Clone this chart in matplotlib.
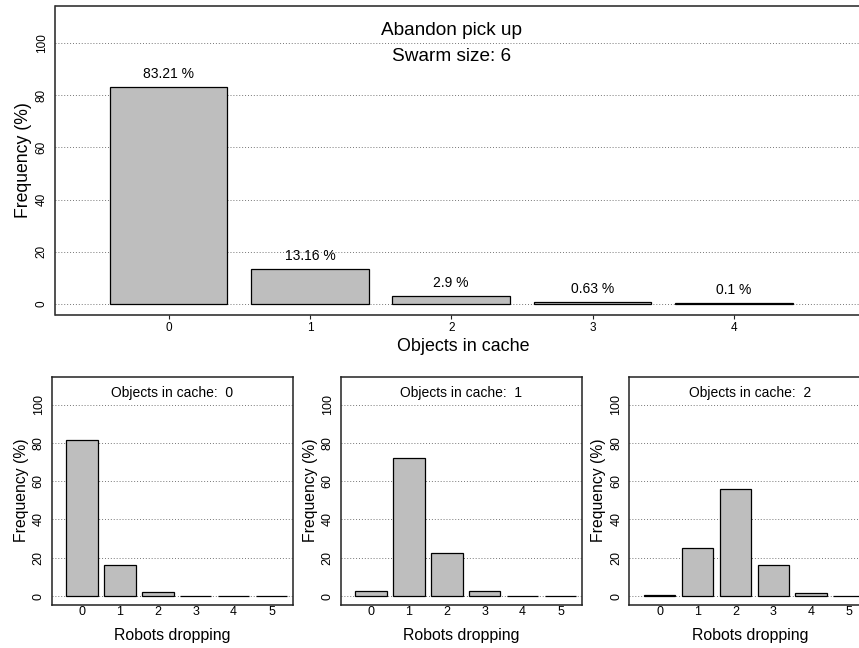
import matplotlib
matplotlib.use("Agg")
import matplotlib.pyplot as plt

plt.rcParams['font.family'] = ['Liberation Sans', 'DejaVu Sans']

# top panel: objects in cache
cache_cats = [0, 1, 2, 3, 4]
cache_freq = [83.21, 13.16, 2.9, 0.63, 0.1]

# bottom panels: robots dropping, per number of objects in cache
drop_cats = [0, 1, 2, 3, 4, 5]
drop_freq_0 = [81.6, 16.0, 2.1, 0.25, 0.03, 0.01]
drop_freq_1 = [2.6, 72.0, 22.3, 2.8, 0.25, 0.02]
drop_freq_2 = [0.8, 25.1, 56.0, 16.3, 1.6, 0.15]
drop_panels = [(0, drop_freq_0), (1, drop_freq_1), (2, drop_freq_2)]

yticks = [0, 20, 40, 60, 80, 100]
W, H = 859, 648
BAR = '#bebebe'
SPINE = '#222222'


def px_axes(fig, left, top, right, bottom):
    return fig.add_axes([left / W, 1 - bottom / H, (right - left) / W, (bottom - top) / H])


def style(ax, tick_fs, xtick_len, xpad, ypad):
    ax.set_ylim(-4.4, 114.4)
    ax.set_yticks(yticks)
    ax.set_yticklabels([str(t) for t in yticks], rotation=90, va='center', fontsize=tick_fs)
    ax.tick_params(axis='y', length=0, pad=ypad)
    ax.tick_params(axis='x', length=xtick_len, width=0.8, pad=xpad, labelsize=tick_fs, color=SPINE)
    ax.grid(axis='y', linestyle=(0, (1, 2)), color='#777777', linewidth=0.7)
    ax.set_axisbelow(True)
    for s in ax.spines.values():
        s.set_color(SPINE)
        s.set_linewidth(1.1)


fig = plt.figure(figsize=(W / 100, H / 100), dpi=100)

# top panel
ax = px_axes(fig, 55.5, 6, 871, 315)
ax.bar(cache_cats, cache_freq, width=0.833, color=BAR, edgecolor='black', linewidth=0.9)
ax.set_xlim(-0.80, 4.97)
ax.set_xticks(cache_cats)
style(ax, 8.5, 3, 2, 5.5)
for x, v in zip(cache_cats, cache_freq):
    ax.text(x, v + 5, f"{v:g} %", ha='center', va='center', fontsize=10)
ax.text(2, 105, "Abandon pick up", ha='center', va='center', fontsize=13.7)
ax.text(2, 95, "Swarm size: 6", ha='center', va='center', fontsize=13.7)
ax.set_ylabel("Frequency (%)", fontsize=12.7, labelpad=3)
ax.set_xlabel("Objects in cache", fontsize=12.9, labelpad=3)

# bottom panels
lefts = [51.7, 340.7, 629.3]
for left, (n, freq) in zip(lefts, drop_panels):
    ax = px_axes(fig, left, 377, left + 241, 604.5)
    ax.bar(drop_cats, freq, width=0.833, color=BAR, edgecolor='black', linewidth=0.9)
    ax.set_xlim(-0.80, 5.56)
    ax.set_xticks(drop_cats)
    style(ax, 9, 0, 1, 5)
    ax.text(0.5, 106, f"Objects in cache:  {n}", transform=ax.get_yaxis_transform(),
            ha='center', va='center', fontsize=10)
    ax.set_ylabel("Frequency (%)", fontsize=11.3, labelpad=3)
    ax.set_xlabel("Robots dropping", fontsize=11.4, labelpad=7)

fig.savefig("out.png", dpi=100)
